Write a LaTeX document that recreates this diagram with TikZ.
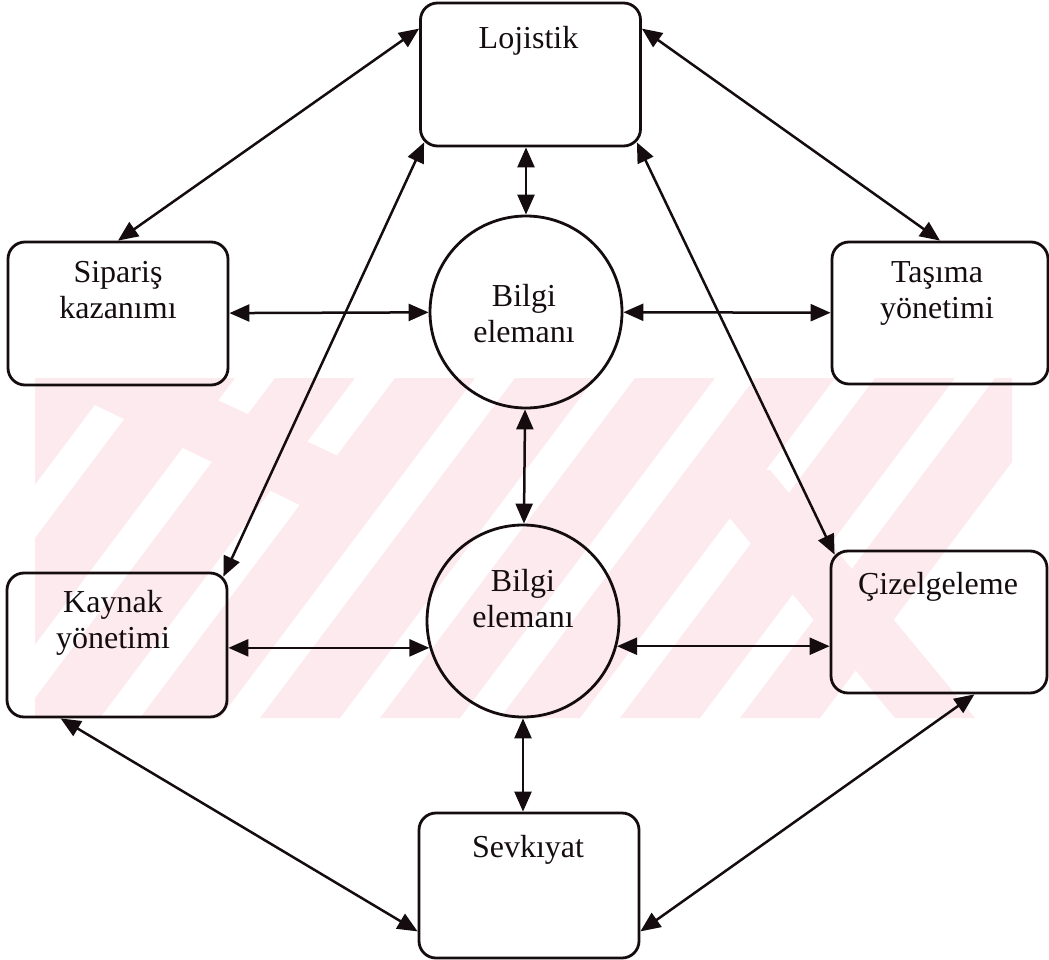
\documentclass[tikz,border=0pt]{standalone}
\usepackage{fontspec}
\setmainfont{Liberation Serif}
\usetikzlibrary{arrows.meta,calc}
\definecolor{wmpink}{RGB}{252,234,238}
\definecolor{ink}{RGB}{20,12,14}
\tikzset{
  box/.style={draw=ink, line width=2.8pt, rounded corners=17pt, inner sep=0pt,
    minimum width=220pt, minimum height=143pt},
  bubble/.style={draw=ink, circle, line width=2.8pt, minimum size=192pt, inner sep=0pt},
  lbl/.style={font=\fontsize{32}{36}\selectfont, align=center, inner sep=0pt,
    anchor=north, text=ink},
  link/.style={draw=ink, line width=2.5pt,
    {Triangle[length=20pt,width=17pt]}-{Triangle[length=20pt,width=17pt]}},
}
\begin{document}
\begin{tikzpicture}[x=1pt,y=-1pt]
\useasboundingbox (0,0) rectangle (1049,960);

% pale striped emblem in the background
\begin{scope}
  \clip (35,378) rectangle (1012,718);
  \foreach \b in {-220,-100,20,140,260,380,500,620,740}
    \fill[wmpink] (\b,718) -- ++(80,0) -- ++(255,-340) -- ++(-80,0) -- cycle;
  \fill[wmpink] (40,378) -- (170,378) -- (390,480) -- (320,515) -- cycle;
  \fill[wmpink] (690,470) -- (770,470) -- (975,718) -- (895,718) -- cycle;
\end{scope}

% boxes
\node[box] (L) at (530.5,74.5) {};
\node[box] (S) at (118,313.5) {};
\node[box, minimum width=216pt, minimum height=142pt] (T) at (940,313) {};
\node[box, minimum height=144pt] (K) at (117,645) {};
\node[box, minimum width=216pt, minimum height=142pt] (C) at (939,622) {};
\node[box, minimum height=145pt] (V) at (529,885.5) {};

% information elements
\node[bubble] (B1) at (526,312) {};
\node[bubble] (B2) at (523,621) {};

% labels
\node[lbl] (Lt) at ($(L.north)+(-2,24)$) {Lojistik};
\node[lbl] (St) at ($(S.north)+(0,21)$) {Sipariş\\kazanımı};
\node[lbl] (Tt) at ($(T.north)+(-3,21)$) {Taşıma\\yönetimi};
\node[lbl] (Kt) at ($(K.north)+(-4,18)$) {Kaynak\\yönetimi};
\node[lbl] (Ct) at ($(C.north)+(-1,22)$) {Çizelgeleme};
\node[lbl] (Vt) at ($(V.north)+(-1,23)$) {Sevkıyat};
\node[lbl] (B1t) at ($(B1.center)+(-2,-28)$) {Bilgi\\elemanı};
\node[lbl] (B2t) at ($(B2.center)+(0,-52)$) {Bilgi\\elemanı};

% outer ring of links
\draw[link] ($(L.north west)+(0,27)$) -- (S.north);
\draw[link] ($(L.north east)+(0,27)$) -- (T.north);
\draw[link] ($(L.south west)+(5,-5)$) -- ($(K.north east)+(-5,5)$);
\draw[link] ($(L.south east)+(-5,-5)$) -- ($(C.north west)+(5,5)$);
\draw[link] ($(K.south west)+(55,0)$) -- ($(V.south west)+(0,-28)$);
\draw[link] ($(C.south east)+(-74,0)$) -- ($(V.south east)+(0,-28)$);

% links to the information elements
\draw[link] (L.south -| B1.north) -- (B1.north);
\draw[link] (S) -- (B1);
\draw[link] (B1) -- (T);
\draw[link] (B1) -- (B2);
\draw[link] (K.east |- B2.196) -- (B2.196);
\draw[link] (B2.-15) -- (C.west |- B2.-15);
\draw[link] (B2.south) -- (B2.south |- V.north);
\end{tikzpicture}
\end{document}
